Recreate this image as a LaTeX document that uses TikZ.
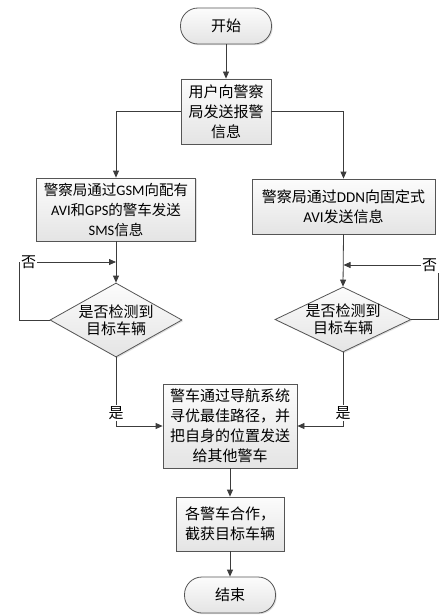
\documentclass[tikz,border=0pt]{standalone}
\usepackage{fontspec}
\setmainfont{Noto Sans CJK SC}
\newfontfamily\latfont{Carlito}
\newcommand{\lat}[1]{{\latfont #1}}
\usepackage{tikz}
\usetikzlibrary{shapes.geometric, arrows.meta, shadows}
\definecolor{mydark}{RGB}{60,60,60}
\definecolor{myframe}{RGB}{85,85,85}
\definecolor{mytop}{RGB}{252,252,252}
\definecolor{mybot}{RGB}{228,228,228}
\tikzset{
  base/.style={draw=myframe, top color=mytop, bottom color=mybot,
    line width=0.8pt, inner sep=0pt, align=center,
    font=\fontsize{15}{20}\selectfont,
    drop shadow={shadow xshift=1.2pt, shadow yshift=-1.2pt, opacity=0.25}},
  terminal/.style={base, rectangle, rounded corners=17.5pt,
    minimum width=91pt, minimum height=36pt},
  procbox/.style={base, rectangle},
  decision/.style={base, diamond},
  dtext/.style={align=center, inner sep=0pt, font=\fontsize{15}{17}\selectfont},
  lbl/.style={inner sep=1pt, font=\fontsize{15}{18}\selectfont},
  arrow/.style={-{Triangle[length=7pt, width=6pt]}, line width=0.8pt, color=mydark},
  line/.style={line width=0.8pt, color=mydark}
}

\begin{document}
\begin{tikzpicture}[x=1pt, y=-1pt]
  \useasboundingbox (0,0) rectangle (441,615);

  % Start and first step
  \node[terminal] (start) at (226,26) {开始};
  \node[procbox, minimum width=90pt, minimum height=65pt] (report) at (226,111.5)
    {用户向警察\\局发送报警\\信息};

  % Two branches
  \node[procbox, minimum width=159pt, minimum height=63pt,
    font=\fontsize{14.5}{20}\selectfont] (gsm) at (116,209.5)
    {警察局通过\lat{GSM}向配有\\\lat{AVI}和\lat{GPS}的警车发送\\\lat{SMS}信息};
  \node[procbox, minimum width=183pt, minimum height=55pt] (ddn) at (343.5,206.5)
    {警察局通过\lat{DDN}向固定式\\\lat{AVI}发送信息};

  % Decisions
  \node[decision, minimum width=132pt, minimum height=74pt] (chkL) at (116,320) {};
  \node[dtext] (chkLt) at (chkL) {是否检测到\\目标车辆};
  \node[decision, minimum width=136pt, minimum height=65pt] (chkR) at (343,319.5) {};
  \node[dtext] (chkRt) at (chkR) {是否检测到\\目标车辆};

  % Loop labels
  \node[lbl] (noL) at (28.5,262) {否};
  \node[lbl] (noR) at (429.5,265) {否};
  \node[lbl] (yesL) at (116,413) {是};
  \node[lbl] (yesR) at (343,413) {是};

  % Navigation and final steps
  \node[procbox, minimum width=134pt, minimum height=84pt] (nav) at (230,426)
    {警车通过导航系统\\寻优最佳路径，并\\把自身的位置发送\\给其他警车};
  \node[procbox, minimum width=108pt, minimum height=54pt] (catch) at (230,524)
    {各警车合作，\\截获目标车辆};
  \node[terminal] (stop) at (230,595) {结束};

  % Junction points on the vertical lines
  \coordinate (jL) at (gsm.south |- noL);
  \coordinate (jR) at (ddn.south |- noR);

  % Connectors
  \draw[arrow] (start) -- (report);
  \draw[arrow] (report.west) -| (gsm.north);
  \draw[arrow] (report.east) -| (ddn.north);
  \draw[arrow] (gsm.south) -- (chkL.north);
  \draw[arrow] (ddn.south) -- (chkR.north);
  \draw[line] (chkL.west) -| (noL.west);
  \draw[arrow] (noL.east) -- (jL);
  \draw[line] (chkR.east) -| (noR.south east);
  \draw[arrow] (noR.west) -- (jR);
  \draw[line] (chkL.south) -- (yesL.north);
  \draw[arrow] (yesL.south) |- (nav.west);
  \draw[line] (chkR.south) -- (yesR.north);
  \draw[arrow] (yesR.south) |- (nav.east);
  \draw[arrow] (nav) -- (catch);
  \draw[arrow] (catch) -- (stop);
\end{tikzpicture}
\end{document}
